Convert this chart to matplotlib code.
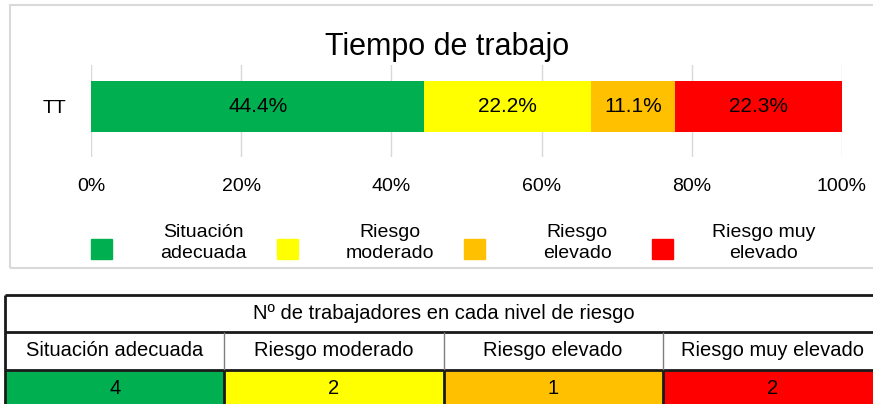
import matplotlib.pyplot as plt
from matplotlib.patches import Rectangle

plt.rcParams['font.family'] = ['Liberation Sans', 'DejaVu Sans']

# Risk levels for the "Tiempo de trabajo" factor
niveles = ['Situación adecuada', 'Riesgo moderado', 'Riesgo elevado', 'Riesgo muy elevado']
niveles_leyenda = ['Situación\nadecuada', 'Riesgo\nmoderado', 'Riesgo\nelevado', 'Riesgo muy\nelevado']
porcentajes = [44.4, 22.2, 11.1, 22.3]
trabajadores = [4, 2, 1, 2]
colores = ['#00B050', '#FFFF00', '#FFC000', '#FF0000']
factor = 'TT'
ticks = [0, 20, 40, 60, 80, 100]

W, H = 873, 404
fig = plt.figure(figsize=(W / 100, H / 100), dpi=100)


def fx(px):
    return px / W


def fy(py):
    return 1 - py / H


# grey frame around the chart area
fig.patches.append(Rectangle((fx(10), fy(268)), fx(880), (268 - 5) / H,
                             transform=fig.transFigure, fill=False,
                             edgecolor='#D9D9D9', lw=1.5))

fig.text(fx(447), fy(55), 'Tiempo de trabajo', ha='center', va='baseline', fontsize=22)

# stacked horizontal bar
ax = fig.add_axes([fx(91), fy(157), fx(751), 92 / H])
izq = 0
for p, c in zip(porcentajes, colores):
    b = ax.barh(0, p, left=izq, height=0.555, color=c, zorder=2)
    ax.bar_label(b, labels=[f'{p:.1f}%'], label_type='center', fontsize=15)
    izq += p
ax.set_xlim(0, 100)
ax.set_ylim(-0.55, 0.45)
ax.set_xticks(ticks)
ax.set_xticklabels([f'{t}%' for t in ticks], fontsize=14)
ax.set_yticks([0])
ax.set_yticklabels([factor], fontsize=14)
ax.tick_params(axis='x', length=0, pad=15)
ax.tick_params(axis='y', length=0, pad=18)
ax.grid(axis='x', color='#D9D9D9', lw=1, zorder=0)
for s in ax.spines.values():
    s.set_visible(False)

# legend below the bar
leg_cuadro = [91, 277, 464, 652]
leg_texto = [203, 390, 577, 764]
for xc, xt, lab, c in zip(leg_cuadro, leg_texto, niveles_leyenda, colores):
    fig.patches.append(Rectangle((fx(xc), fy(259)), fx(21), 20 / H,
                                 transform=fig.transFigure, color=c))
    fig.text(fx(xt), fy(243), lab, ha='center', va='center', fontsize=14,
             linespacing=1.3, multialignment='center')

# count table
tab = fig.add_axes([fx(5), fy(407), fx(877), 112 / H])
tab.set_xlim(0, 4)
tab.set_ylim(3, 0)
tab.axis('off')
tab.bar(range(4), 1, bottom=2, width=1, align='edge', color=colores, zorder=1)
tab.text(2, 0.5, 'Nº de trabajadores en cada nivel de riesgo', ha='center', va='center', fontsize=14.5)
for i, (n, v) in enumerate(zip(niveles, trabajadores)):
    tab.text(i + 0.5, 1.5, n, ha='center', va='center', fontsize=14.5)
    tab.text(i + 0.5, 2.5, str(v), ha='center', va='center', fontsize=14.5)
tab.hlines([0, 1, 2, 3], 0, 4, color='#1a1a1a', lw=2, clip_on=False, zorder=3)
tab.vlines([0, 4], 0, 3, color='#1a1a1a', lw=2, clip_on=False, zorder=3)
tab.vlines([1, 2, 3], 1, 2, color='#7f7f7f', lw=1, clip_on=False, zorder=3)
tab.vlines([1, 2, 3], 2, 3, color='#1a1a1a', lw=2, clip_on=False, zorder=3)

fig.savefig('out.png', dpi=100)
